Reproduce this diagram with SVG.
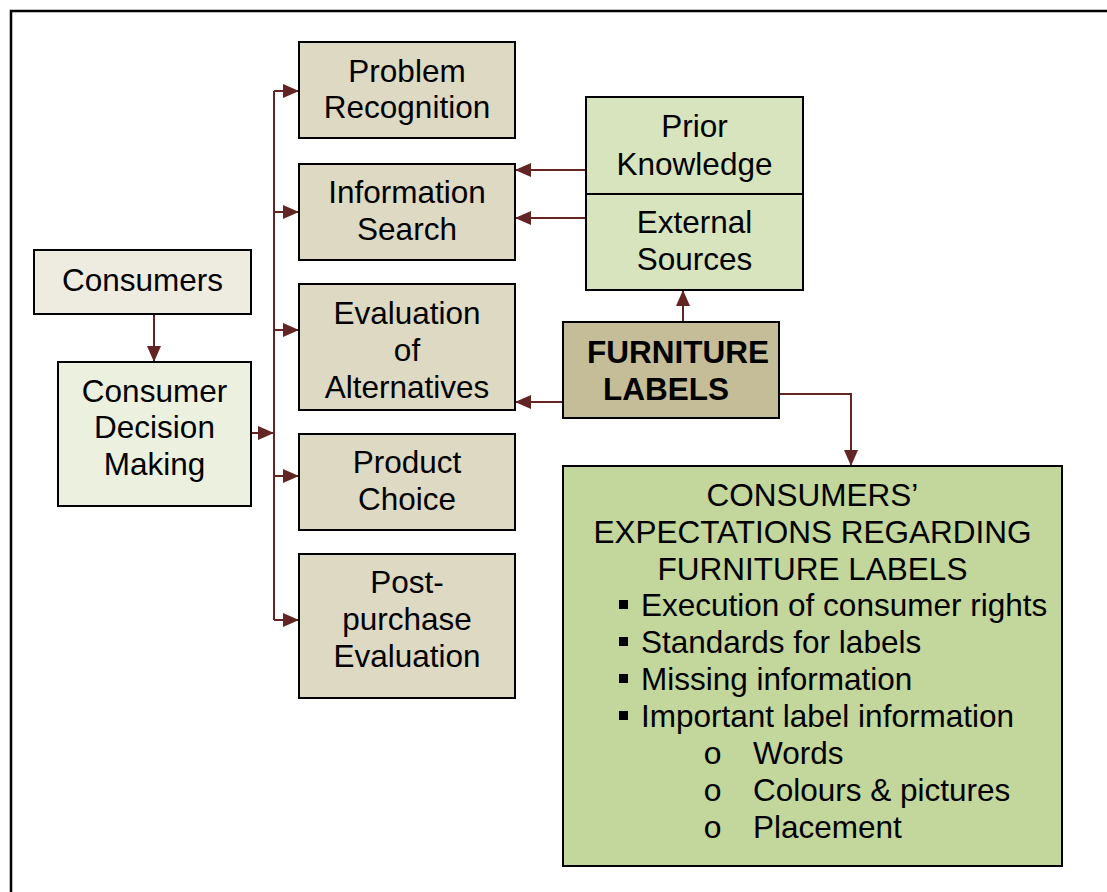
<svg xmlns="http://www.w3.org/2000/svg" width="1107" height="892" viewBox="0 0 1107 892">
  <style>
    .box { stroke: #000; stroke-width: 2; }
    .t { font-family: "Liberation Sans", Arial, sans-serif; font-size: 31.5px; fill: #000; }
    .c { text-anchor: middle; }
    .b { font-weight: bold; }
    .conn { fill: none; stroke: #632523; stroke-width: 2; }
    .mono { font-family: "Liberation Mono", "Courier New", monospace; font-size: 32px; fill: #000; }
  </style>
  <defs>
    <marker id="arrow" viewBox="0 0 16 14" refX="16" refY="7" markerWidth="16" markerHeight="14" markerUnits="userSpaceOnUse" orient="auto">
      <path d="M0,0 L16,7 L0,14 z" fill="#632523"/>
    </marker>
  </defs>

  <rect width="1107" height="892" fill="#fff"/>
  <!-- page frame -->
  <rect x="11" y="11" width="1120" height="920" fill="none" stroke="#000" stroke-width="2.5"/>

  <g id="connectors">
    <path class="conn" d="M154,314 V362" marker-end="url(#arrow)"/>
    <path class="conn" d="M251,433 H274" marker-end="url(#arrow)"/>
    <path class="conn" d="M274,91 V620"/>
    <path class="conn" d="M274,91 H299" marker-end="url(#arrow)"/>
    <path class="conn" d="M274,212 H299" marker-end="url(#arrow)"/>
    <path class="conn" d="M274,330 H299" marker-end="url(#arrow)"/>
    <path class="conn" d="M274,476 H299" marker-end="url(#arrow)"/>
    <path class="conn" d="M274,620 H299" marker-end="url(#arrow)"/>
    <path class="conn" d="M586,170 H515" marker-end="url(#arrow)"/>
    <path class="conn" d="M586,218 H515" marker-end="url(#arrow)"/>
    <path class="conn" d="M563,402 H515" marker-end="url(#arrow)"/>
    <path class="conn" d="M683,322 V290" marker-end="url(#arrow)"/>
    <path class="conn" d="M779,394 H851 V466" marker-end="url(#arrow)"/>
  </g>

  <g id="consumers">
    <rect class="box" x="34" y="250" width="217" height="64" fill="#eeece1"/>
    <text class="t c" x="142.5" y="291">Consumers</text>
  </g>

  <g id="decision-making">
    <rect class="box" x="58" y="362" width="193" height="144" fill="#ebf1de"/>
    <text class="t c" x="154.5" y="402">Consumer</text>
    <text class="t c" x="154.5" y="438">Decision</text>
    <text class="t c" x="154.5" y="475">Making</text>
  </g>

  <g id="problem-recognition">
    <rect class="box" x="299" y="42" width="216" height="96" fill="#ddd9c3"/>
    <text class="t c" x="407" y="82">Problem</text>
    <text class="t c" x="407" y="118">Recognition</text>
  </g>

  <g id="information-search">
    <rect class="box" x="299" y="164" width="216" height="96" fill="#ddd9c3"/>
    <text class="t c" x="407" y="203">Information</text>
    <text class="t c" x="407" y="240">Search</text>
  </g>

  <g id="evaluation">
    <rect class="box" x="299" y="284" width="216" height="126" fill="#ddd9c3"/>
    <text class="t c" x="407" y="324">Evaluation</text>
    <text class="t c" x="407" y="361">of</text>
    <text class="t c" x="407" y="398">Alternatives</text>
  </g>

  <g id="product-choice">
    <rect class="box" x="299" y="434" width="216" height="96" fill="#ddd9c3"/>
    <text class="t c" x="407" y="473">Product</text>
    <text class="t c" x="407" y="510">Choice</text>
  </g>

  <g id="post-purchase">
    <rect class="box" x="299" y="554" width="216" height="144" fill="#ddd9c3"/>
    <text class="t c" x="407" y="593">Post-</text>
    <text class="t c" x="407" y="630">purchase</text>
    <text class="t c" x="407" y="667">Evaluation</text>
  </g>

  <g id="prior-knowledge">
    <rect class="box" x="586" y="97" width="217" height="97" fill="#d7e4bd"/>
    <text class="t c" x="694.5" y="137">Prior</text>
    <text class="t c" x="694.5" y="175">Knowledge</text>
  </g>

  <g id="external-sources">
    <rect class="box" x="586" y="194" width="217" height="96" fill="#d7e4bd"/>
    <text class="t c" x="694.5" y="233">External</text>
    <text class="t c" x="694.5" y="270">Sources</text>
  </g>

  <g id="furniture-labels">
    <rect class="box" x="563" y="322" width="216" height="96" fill="#c4bd97"/>
    <text class="t b" x="587" y="363">FURNITURE</text>
    <text class="t b" x="603" y="400">LABELS</text>
  </g>

  <g id="expectations">
    <rect class="box" x="563" y="466" width="499" height="400" fill="#c3d69b"/>
    <text class="t c" x="812.5" y="506">CONSUMERS’</text>
    <text class="t c" x="812.5" y="543">EXPECTATIONS REGARDING</text>
    <text class="t c" x="812.5" y="580">FURNITURE LABELS</text>
    <rect x="619" y="600" width="9" height="9" fill="#000"/>
    <text class="t" x="641" y="616">Execution of consumer rights</text>
    <rect x="619" y="637" width="9" height="9" fill="#000"/>
    <text class="t" x="641" y="653">Standards for labels</text>
    <rect x="619" y="674" width="9" height="9" fill="#000"/>
    <text class="t" x="641" y="690">Missing information</text>
    <rect x="619" y="711" width="9" height="9" fill="#000"/>
    <text class="t" x="641" y="727">Important label information</text>
    <text class="mono" x="703" y="764">o</text>
    <text class="t" x="753" y="764">Words</text>
    <text class="mono" x="703" y="801">o</text>
    <text class="t" x="753" y="801">Colours &amp; pictures</text>
    <text class="mono" x="703" y="838">o</text>
    <text class="t" x="753" y="838">Placement</text>
  </g>
</svg>
